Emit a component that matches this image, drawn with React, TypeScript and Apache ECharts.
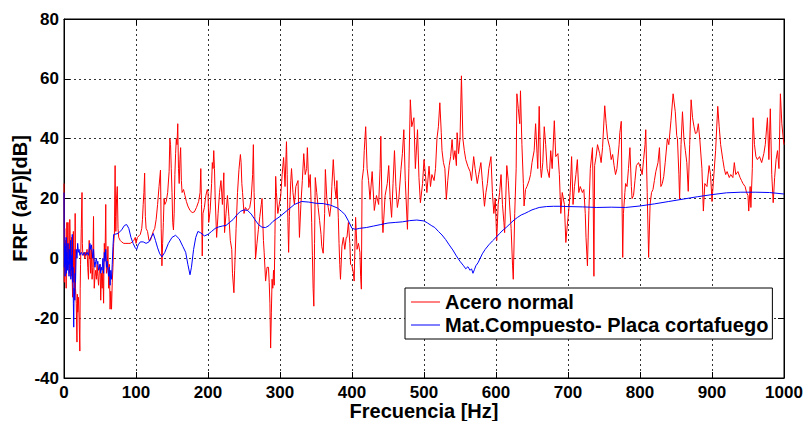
import React, { useEffect, useRef } from "react";
import * as echarts from "echarts";

const xTicks = { min: 0, max: 1000, interval: 100 };
const yTicks = { min: -40, max: 80, interval: 20 };
const seriesNames = ["Acero normal", "Mat.Compuesto- Placa cortafuego"];
const xName = "Frecuencia [Hz]";
const yName = "FRF (a/F)[dB]";

// [Hz, dB]
const aceroNormal: [number, number][] = [
  [0,25],[0.5,-8],[1,10],[1.5,-4],[2,6],[3,-10],[3.5,3],[4,12],[5,-3],[5.5,12],[6,0],[7,5],[7.5,-5],[8,13],[9,2],[10,-6],[10.5,7],[11,-3],[12,-13],[12.5,0],[13,9],[13.5,-8],[14,3],[15,-12],[15.5,15],[16,-10],[17,-15],[18,-28],[18.5,-12],[19,-18],[20,-13],[21,-20],[22,-31],[22.5,-10],[23,-2],[24,10],[25,22],[25.5,5],[26,2],[27,1],[28,2],[29,0],[30,2],[31,1],[32,3],[33,-3],[34,-7],[35,6],[35.5,0],[36,4],[37,-5],[38,3],[39,-7],[40,-3],[41,14],[41.5,-3],[42,-10],[43,-6],[44,-4],[45,-7],[46,-2],[47,-6],[48,-9],[49,-4],[50,-2],[51,-14],[52,-5],[53,-10],[54,-4],[55,-15],[55.5,-2],[56,5],[57,0],[58,18],[58.5,0],[59,-5],[60,-3],[61,4],[62,-10],[63,-2],[64,-17],[65,-11],[66,-17],[67,-8],[68,-3],[69,5],[70,8],[71,31],[71.5,14],[72,9],[73,20],[74,24],[75,10],[76,7],[78,6],
  [80,5.5],[83,5],[86,5],[89,5],[92,5],[95,5.5],[97,6],[99,7],[100,5],[102,7],[104,7.5],[106,8],[108,10],[109,13],[110,18],[111,22],[112,28.5],[112.5,20],[113,14],[114,10],[116,9],[118,6],[120,6],[122,7.5],[124,9],[126,10],[128,13],[130,18],[132,24],[134,29.5],[135,10],[136,-2.5],[137,5],[138,12],[139,20],[140,18],[142,19],[144,22],[146,29],[147,40],[148,38],[149,30],[150,22],[151,12],[152,9.5],[153,15],[154,28],[155,35],[156,40],[157,38],[158,45],[159,30],[160,25],[161,33],[162,37],[163,26],[164,22],[166,23],[168,21],[170,19],[172,17.5],[175,16],[178,15.3],[181,15.5],[184,17],[187,19],[189,22],[190,30],[191,18],[192,0.8],[193,15],[195,17],[197,21],[199,23],[200,22],[201,12],[203,16],[205,25],[206,32],[207,30],[208,36],[209,30],[210,20],[212,7],[214,15],[216,22],[218,26],[220,18],[222,28.6],[223,8.6],[225,15],[227,21],[229,14],[231,6],[233,3],[234,-5],[236,-11.5],[237,-4],[239,10],[241,22],[243,29.7],[245,34.7],[246,32],[247,25],[248,22],[250,15],[252,17],[255,16],[258,17],[260,20],[262,28],[263,38],[264,22],[265,14],[266,-0.3],[268,5],[270,9.7],[272,14],[274,18],[275,20],[277,6],[278,2],[280,-7.6],[282,-3],[284,-3],[285,-8],[286,-15],[287,-30],[288,-18],[289,-7],[290,-10],[291,-4],[292,-9],[293,8],[294,27.4],[295,22],[297,15],[299,18],
  [301,21],[303,28],[305,33.7],[307,24],[309,39],[310,28],[311,12],[312,2],[313,14],[315,26],[316,30],[318,22],[320,18],[322,24],[325,26],[327,7],[329,18],[331,26],[333,35],[335,28],[337,30],[338,37],[340,23.7],[342,28],[344,12],[345,1],[346,-10],[347,-16],[348,5],[349,27],[351,22],[353,17],[355,12.6],[357,8],[358,4],[360,1.7],[362,15],[363,29.7],[365,20],[367,17],[369,14],[371,18],[372,24],[374,33],[376,24],[378,20],[379,26],[381,13.6],[382,5],[383,-2],[384,-7],[386,4],[388,7],[390,3],[392,7],[393,7],[395,12],[397,5],[398,-2],[400,-2.5],[402,-5],[403,-7.6],[405,13.7],[407,3],[409,5],[411,2],[412,-6],[413,-10.3],[414,26],[416,30],[417,36],[419,44],[421,30],[423,26],[425,19.7],[428,29],[431,16],[434,21],[437,18],[439,30],[440,40.8],[442,13],[443,8.6],[446,21],[449,25],[451,31],[453,20],[455,13.7],[457,25],[459,36],[461,24],[463,17],[465,20],[468,29.7],[470,35],[472,43],[474,26],[477,9.7],[479,30],[481,53],[483,44],[486,47],[488,30],[491,43],[493,27],[495,18.6],[498,25],[500,33],
  [502,28],[504,22],[507,30.8],[509,24],[511,28],[514,26],[516,30],[518,40],[520,44],[522,52],[524,42],[525,36],[527,32],[529,30],[531,19.7],[533,26],[535,31],[537,34],[539,39.7],[541,33],[543,36],[545,31],[546,42],[548,35],[550,40],[552,61],[554,40],[556,36],[558,33],[561,30.7],[564,29],[566,26],[569,34],[571,30],[574,25],[576,28],[579,32],[581,26],[584,17.4],[586,22],[588,25],[590,30],[593,34],[595,22],[597,15],[599,20],[601,6],[603,18],[605,22],[607,28],[609,18],[611,12],[612,8.6],[615,31],[617,26],[619,17.5],[621,10],[623,-2.5],[624,-7],[626,15],[628,30],[629,55],[631,50],[633,45],[634,56],[636,38],[638,25],[639,17.5],[641,23],[643,24],[646,26],[648,28],[650,32],[653,36],[655,45],[657,35],[658,30],[660,50.8],[662,30],[663,27],[665,32],[667,44],
  [669,38],[671,30],[674,27],[676,36],[678,30],[681,46],[683,34],[686,35],[688,28],[690,15],[692,22],[695,18],[697,5.3],[699,11],[701,16],[703,22],[705,34],[707,18],[709,24],[711,28],[713,33],[715,22],[717,24],[720,22],[722,23],[724,15],[725,7],[727,-2.5],[729,16],[731,30],[734,37],[735,20],[736,-6],[737,31],[739,34],[741,38],[744,35],[746,32],[748,37],[751,51],[753,45],[755,40],[758,37],[760,33],[762,34.7],[764,31],[766,28],[768,30],[771,38],[772,42],[774,45.8],[775,20],[776,0.3],[777,15],[779,22],[780,25],[782,24],[784,30],[786,37],[788,24],[789,20],[791,21],[793,26],[795,31],[798,32],[801,30],[803,28],[805,33],[807,38],[808,43],[810,22],[812,0.3],[814,18],[816,22],[818,23],[820,26],[822,29],[825,32],[827,37],[829,24],[831,25],[833,27.4],[835,32],[838,40],
  [840,38],[843,46],[846,55],[849,49],[851,41],[852,40],[854,28],[855,19.7],[857,38],[859,49],[861,40],[863,36],[865,32],[867,22.4],[869,38],[871,53],[873,47],[875,44],[877,41.7],[879,42],[881,45],[883,40],[886,30],[888,15.8],[890,25],[893,24],[896,31],[898,28],[900,19],[902,26],[905,36],[908,50.8],[910,44],[912,38],[915,33],[917,30],[919,28],[921,29],[924,27],[926,28],[929,27],[931,32],[933,28],[936,29],[939,27],[941,26],[943,25],[946,24],[948,22],[950,21],[951,15.8],[953,24],[954,17],[956,30],[957,47],[959,38],[961,34],[963,33],[966,34],[969,32],[972,35],[974,38],[977,47],[979,33],[981,50],[983,28],[985,18.6],[987,27],[989,33],[991,36],[993,30],[995,55],[997,45],[999,40],[1000,38],
];

// [Hz, dB]
const matCompuesto: [number, number][] = [
  [0,22],[0.5,-3],[1,5],[1.5,-6],[2,4],[2.5,-2],[3,7],[3.5,-5],[4,2],[5,-4],[5.5,5],[6,0],[7,-6],[7.5,3],[8,-2],[9,6],[9.5,-7],[10,1],[11,-4],[11.5,8],[12,-8],[12.5,-3],[13,-15],[13.5,-23],[14,-10],[15,-14],[15.5,-5],[16,-8],[17,3],[18,0],[19,5],[20,2],[21,3],[22,1],[24,2],[26,1],[28,2],[30,1],[32,2],[34,1],[36,5],[37,3],[38,4.5],[40,0],[41,3],[42,-1],[43,-3],[44,-1],[45,0],[46,-2],[47,-1],[48,-4],[50,-2],[51,-5],[52,-3],[53,-4],[54,0],[55,-5],[56,2],[57,-1],[58,3],[59,-3],[60,-1],[61,-4],[62,-6],[63,-3],[64,-9],[65,-4],[66,-7],[67,-2],[68,4],[69,8],[70,8],
  [75,8.3],[80,9.5],[84,11],[87,11.3],[90,10],[93,7],[96,5],[99,3.5],[101,3],[103,4.5],[106,5.5],[110,5.5],[114,5],[118,5.5],[121,7],[124,8.3],[127,6],[130,3.5],[133,1.5],[136,0.5],[140,2],[145,5],[150,7],[155,7.7],[160,6.5],[165,4],[169,2],[172,-2],[175,-5.5],[177,-3],[180,3],[183,7],[186,9],[190,8.5],[195,7.5],[200,8],[205,9],[210,10],[215,10.5],[220,10.8],[225,11],[230,12],[235,13],[240,14.5],[245,15.7],[250,16.2],[255,16],[260,14.8],[265,13],[270,11.3],[275,10.4],[280,10.3],[285,11],[290,12.3],[300,14],[310,16],[320,18],[330,19],[340,18.8],[350,18.4],[360,18.3],[370,17.8],[380,16.8],[385,15.8],[390,14.7],[395,12.5],[400,10],[405,9.7],[410,10],[420,10.3],[430,10.8],[440,11.3],[450,11.8],[460,12],[470,12.2],[480,12.6],[490,12.8],[500,12.5],
  [505,11.8],[510,11],[515,10.3],[520,9],[525,7.8],[530,6.3],[535,4.5],[540,2.8],[545,0.8],[550,-1],[555,-2.5],[558,-3.5],[561,-2.8],[564,-4],[566,-3.5],[568,-5],[570,-3.8],[572,-2.5],[575,-1.5],[578,0],[581,1.5],[585,3],[590,4.5],[595,5.8],[600,7],[605,8.3],[610,9.5],[615,10.5],[620,11.7],[625,12.8],[630,13.7],[635,14.5],[640,15],[645,15.6],[650,16.2],[655,16.6],[660,17],[670,17.3],[680,17.4],[690,17.4],[700,17.3],[720,17.2],[740,17],[760,17.1],[780,17],[800,17.5],[820,18.2],[840,19],[860,19.8],[880,20.6],[900,21.3],[920,21.9],[940,22.1],[960,22.1],[980,22],[1000,21.5],
];

const FONT = "'Liberation Sans', Arial, Helvetica, sans-serif";

export default function App() {
  const ref = useRef<HTMLDivElement>(null);
  useEffect(() => {
    if (!ref.current) return;
    const chart = echarts.init(ref.current, undefined, { renderer: "svg" });
    const splitLine = { show: true, lineStyle: { color: "#333", type: [2, 3] as any, width: 1 } };
    const labelStyle = { color: "#000", fontFamily: FONT, fontWeight: "bold" as const, fontSize: 17, lineHeight: 14, formatter: (v: number) => String(v) };
    chart.setOption({
      animation: false,
      backgroundColor: "#fff",
      grid: { left: 64, right: 21, top: 19, bottom: 43, show: true, borderColor: "#000", borderWidth: 1, backgroundColor: "transparent", outerBoundsMode: "none", containLabel: false },
      legend: {
        orient: "vertical",
        left: 405,
        top: 288,
        padding: [4, 4, 4, 6],
        itemGap: 3,
        itemWidth: 29,
        itemHeight: 1,
        icon: "rect",
        backgroundColor: "#fff",
        borderColor: "#000",
        borderWidth: 1,
        borderRadius: 0,
        textStyle: { color: "#000", fontFamily: FONT, fontWeight: "bold", fontSize: 20, lineHeight: 20 },
        data: seriesNames,
      },
      xAxis: [
        {
          type: "value", ...xTicks, position: "bottom",
          name: xName, nameLocation: "middle", nameGap: 24, nameMoveOverlap: false,
          nameTextStyle: { color: "#000", fontFamily: FONT, fontWeight: "bold", fontSize: 20, lineHeight: 18 },
          axisLine: { show: true, onZero: false, lineStyle: { color: "#000", width: 1 } },
          axisTick: { show: true, inside: true, length: 6, lineStyle: { color: "#000" } },
          axisLabel: { ...labelStyle, margin: 7 },
          splitLine,
        },
        {
          type: "value", ...xTicks, position: "top",
          axisLine: { show: true, onZero: false, lineStyle: { color: "#000", width: 1 } },
          axisTick: { show: true, inside: true, length: 6, lineStyle: { color: "#000" } },
          axisLabel: { show: false }, splitLine: { show: false },
        },
      ],
      yAxis: [
        {
          type: "value", ...yTicks, position: "left",
          name: yName, nameLocation: "middle", nameGap: 34, nameMoveOverlap: false,
          nameTextStyle: { color: "#000", fontFamily: FONT, fontWeight: "bold", fontSize: 20, lineHeight: 20 },
          axisLine: { show: true, onZero: false, lineStyle: { color: "#000", width: 1 } },
          axisTick: { show: true, inside: true, length: 6, lineStyle: { color: "#000" } },
          axisLabel: { ...labelStyle, margin: 5 },
          splitLine,
        },
        {
          type: "value", ...yTicks, position: "right",
          axisLine: { show: true, onZero: false, lineStyle: { color: "#000", width: 1 } },
          axisTick: { show: true, inside: true, length: 6, lineStyle: { color: "#000" } },
          axisLabel: { show: false }, splitLine: { show: false },
        },
      ],
      series: [
        {
          name: seriesNames[0], type: "line", data: aceroNormal, xAxisIndex: 0, yAxisIndex: 0,
          showSymbol: false, symbol: "none", lineStyle: { color: "#ff0000", width: 1 }, itemStyle: { color: "#ff0000" },
        },
        {
          name: seriesNames[1], type: "line", data: matCompuesto, xAxisIndex: 0, yAxisIndex: 0,
          showSymbol: false, symbol: "none", lineStyle: { color: "#0000ff", width: 1 }, itemStyle: { color: "#0000ff" },
        },
      ],
    });
    return () => chart.dispose();
  }, []);
  return <div ref={ref} style={{ position: "fixed", left: 0, top: 0, width: 805, height: 421 }} />;
}
